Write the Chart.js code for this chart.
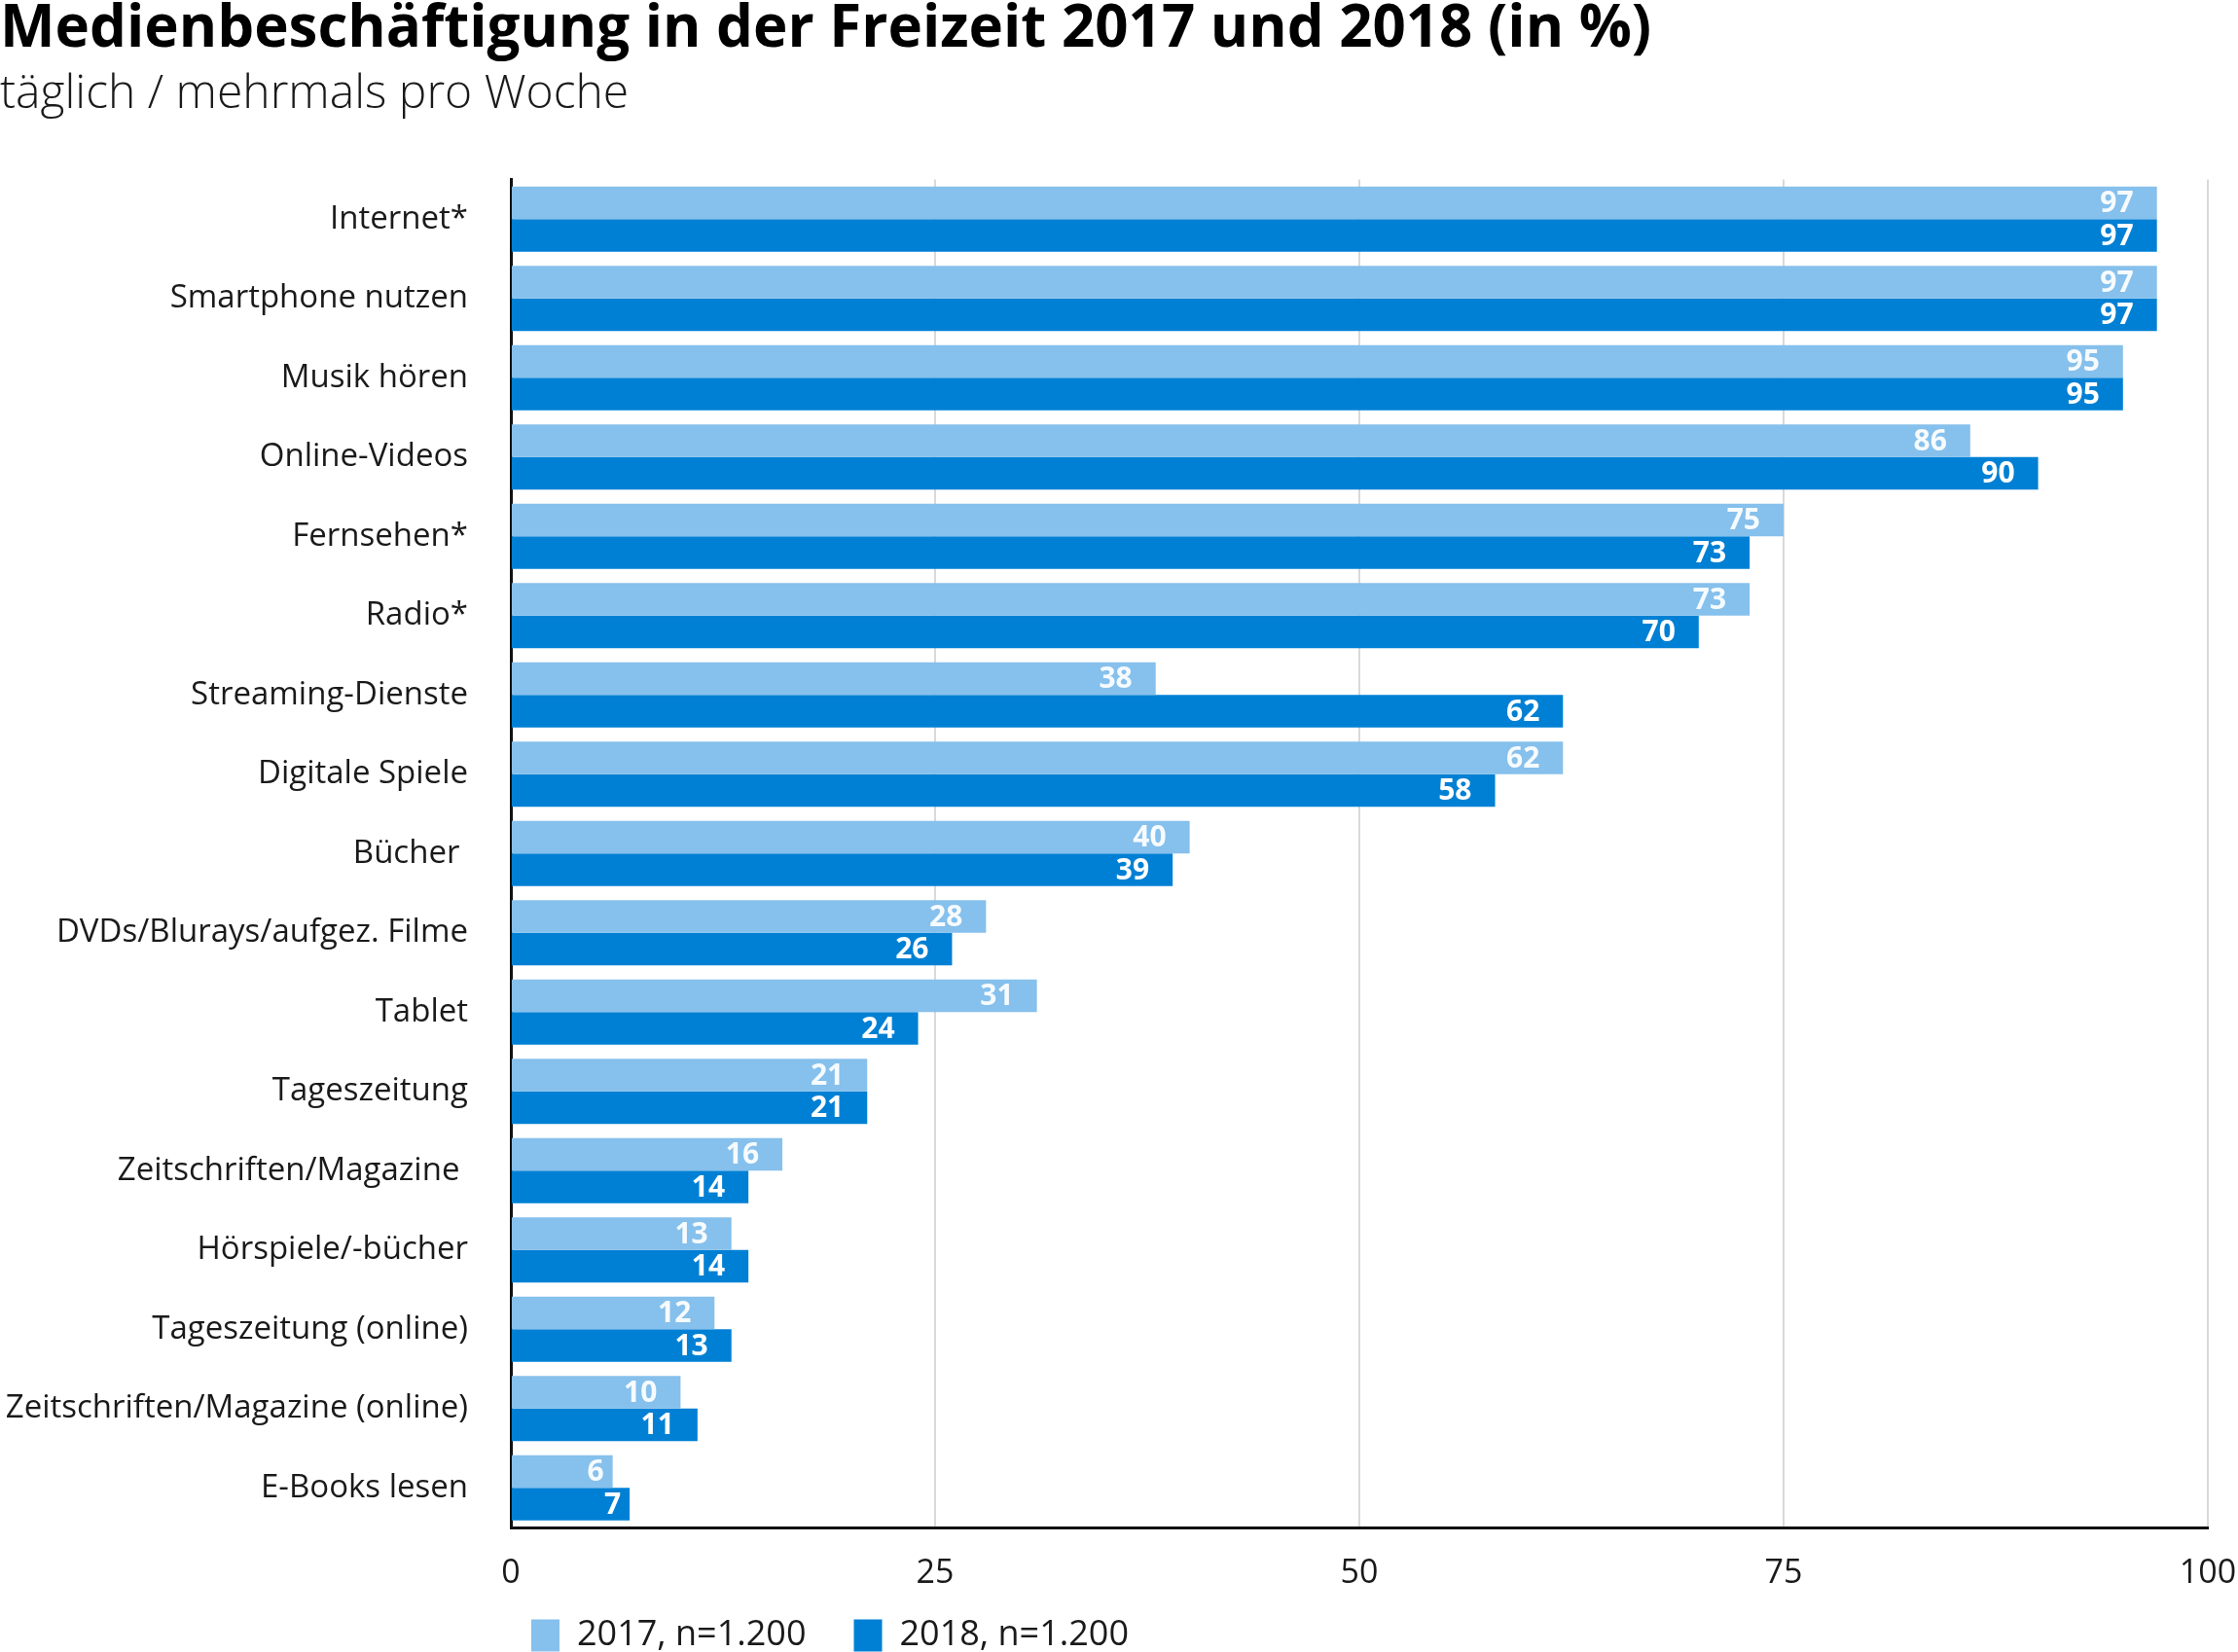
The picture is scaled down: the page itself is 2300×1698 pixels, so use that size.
<!DOCTYPE html>
<html>
<head>
<meta charset="utf-8">
<script src="https://cdn.jsdelivr.net/npm/chart.js@4"></script>
<style>
  body { margin: 0; background: #fff; }
  canvas { display: block; }
</style>
</head>
<body>
<canvas id="chart" width="2300" height="1698"></canvas>
<script>
const categories = [
  'Internet*', 'Smartphone nutzen', 'Musik hören', 'Online-Videos', 'Fernsehen*', 'Radio*',
  'Streaming-Dienste', 'Digitale Spiele', 'Bücher ', 'DVDs/Blurays/aufgez. Filme', 'Tablet',
  'Tageszeitung', 'Zeitschriften/Magazine ', 'Hörspiele/-bücher', 'Tageszeitung (online)',
  'Zeitschriften/Magazine (online)', 'E-Books lesen'
]
const values2017 = [97, 97, 95, 86, 75, 73, 38, 62, 40, 28, 31, 21, 16, 13, 12, 10, 6]
const values2018 = [97, 97, 95, 90, 73, 70, 62, 58, 39, 26, 24, 21, 14, 14, 13, 11, 7]
const seriesLabels = ['2017, n=1.200', '2018, n=1.200']
const xTicks = [0, 25, 50, 75, 100]

const colors = ['#86c0ec', '#0080d4']
const labelColors = ['rgba(255,255,255,0.93)', '#ffffff']
const FONT = '"Open Sans", "Noto Sans", sans-serif'

// values written inside the bar ends
const valueLabels = {
  id: 'valueLabels',
  afterDatasetsDraw(chart) {
    const ctx = chart.ctx
    ctx.save()
    ctx.font = 'bold 30px ' + FONT
    ctx.textAlign = 'right'
    ctx.textBaseline = 'middle'
    chart.data.datasets.forEach((ds, i) => {
      chart.getDatasetMeta(i).data.forEach((bar, j) => {
        const txt = String(ds.data[j])
        const inset = txt.length > 1 ? 24 : 9
        ctx.fillStyle = labelColors[i]
        ctx.fillText(txt, bar.x - inset, bar.y + 1)
      })
    })
    ctx.restore()
  }
}

const config = {
  type: 'bar',
  data: {
    labels: categories,
    datasets: [
      { label: seriesLabels[0], data: values2017, backgroundColor: colors[0], borderWidth: 0 },
      { label: seriesLabels[1], data: values2018, backgroundColor: colors[1], borderWidth: 0 }
    ]
  },
  options: {
    indexAxis: 'y',
    responsive: false,
    animation: false,
    devicePixelRatio: 1,
    categoryPercentage: 0.822,
    barPercentage: 1.0,
    layout: { padding: { left: 0, right: 31, top: 0, bottom: -11 } },
    scales: {
      x: {
        min: 0,
        max: 100,
        afterBuildTicks: scale => { scale.ticks = xTicks.map(v => ({ value: v })) },
        afterFit: scale => {
          scale.height = 72
          scale.paddingLeft = 0
          scale.paddingRight = 0
        },
        grid: {
          color: c => (c.tick && c.tick.value === 0) ? 'rgba(0,0,0,0)' : '#d9d9d9',
          lineWidth: 2,
          drawTicks: false
        },
        border: { display: true, color: '#111', width: 3 },
        ticks: { padding: 27, color: '#1a1a1a', font: { family: FONT, size: 34 } }
      },
      y: {
        afterFit: scale => { scale.width = 525 },
        grid: { display: false, drawTicks: false },
        border: { display: true, color: '#111', width: 3 },
        ticks: { padding: 44, color: '#1a1a1a', font: { family: FONT, size: 33 } }
      }
    },
    plugins: {
      title: {
        display: true,
        text: 'Medienbeschäftigung in der Freizeit 2017 und 2018 (in %)',
        align: 'start',
        color: '#000',
        font: { family: FONT, size: 60, weight: 'bold', lineHeight: 1.2 },
        padding: { top: -5, bottom: 0 }
      },
      subtitle: {
        display: true,
        text: 'täglich / mehrmals pro Woche',
        align: 'start',
        color: '#1a1a1a',
        font: { family: FONT, size: 48, weight: 300, lineHeight: 1.2 },
        padding: { top: 2, bottom: 58 }
      },
      legend: {
        position: 'bottom',
        align: 'start',
        fullSize: false,
        labels: {
          boxWidth: 29,
          boxHeight: 33,
          padding: 21,
          color: '#1a1a1a',
          font: { family: FONT, size: 36 },
          generateLabels(chart) {
            const items = Chart.defaults.plugins.legend.labels.generateLabels(chart)
            items[0].text += '   '
            return items
          }
        }
      },
      tooltip: { enabled: false }
    }
  },
  plugins: [valueLabels]
}

new Chart(document.getElementById('chart'), config)
</script>
</body>
</html>
